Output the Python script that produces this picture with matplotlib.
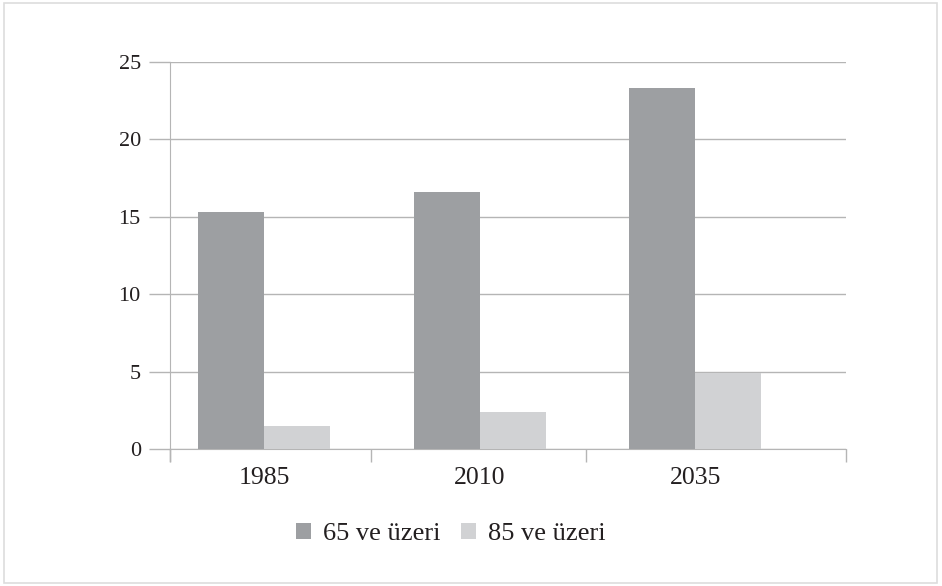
import matplotlib.pyplot as plt
from matplotlib.patches import Rectangle
import numpy as np

years = ["1985", "2010", "2035"]
series_names = ["65 ve üzeri", "85 ve üzeri"]
age65 = [15.3, 16.6, 23.3]
age85 = [1.5, 2.4, 4.9]
colors = ["#9d9fa2", "#d1d2d4"]
yticks = [0, 5, 10, 15, 20, 25]

plt.rcParams['font.family'] = ['Liberation Serif', 'DejaVu Serif']
plt.rcParams['text.color'] = "#231f20"

fig = plt.figure(figsize=(9.42, 5.86), dpi=100)
W, H = 942, 586
ax = fig.add_axes([170 / W, (H - 449) / H, (846 - 170) / W, (449 - 62) / H])

# outer frame
fig.patches.append(Rectangle((4 / W, 3 / H), (937 - 4) / W, (583 - 3) / H,
                             transform=fig.transFigure, fill=False,
                             edgecolor="#dddddd", linewidth=1.2))

x = np.arange(len(years))
w = 0.306
ax.bar(x - w / 2, age65, w, color=colors[0], label=series_names[0], zorder=3)
ax.bar(x + w / 2, age85, w, color=colors[1], label=series_names[1], zorder=3)

ax.set_xlim(-0.436, 2.70)
ax.set_ylim(0, 25)
ax.set_yticks(yticks)
ax.set_xticks(x)
ax.set_xticklabels(years, fontsize=18.5, color="#231f20")
ax.set_xticks([-0.436, 0.497, 1.494, 2.70], minor=True)
ax.tick_params(axis='x', which='major', length=0, pad=13)
ax.tick_params(axis='x', which='minor', length=9, color="#b5b5b5", width=1)
ax.tick_params(axis='y', length=15, color="#b5b5b5", width=1, pad=6,
               labelsize=16, labelcolor="#231f20")
ax.grid(axis='y', color="#b5b5b5", linewidth=1, zorder=0)

for s in ['top', 'right']:
    ax.spines[s].set_visible(False)
ax.spines['left'].set_color("#b5b5b5")
ax.spines['bottom'].set_color("#b5b5b5")
ax.spines['left'].set_bounds(0, 25)
ax.spines['left'].set_zorder(1)

# extend y spine below the axis like the original
ax.plot([-0.436, -0.436], [0, -0.78], color="#b5b5b5", lw=1, clip_on=False)

fig.legend(loc='center', bbox_to_anchor=(451 / W, (H - 534) / H), ncol=2,
           frameon=False, fontsize=19, handlelength=0.55, handleheight=0.55,
           handletextpad=0.45, columnspacing=0.8)

fig.savefig("out.png", dpi=100)
